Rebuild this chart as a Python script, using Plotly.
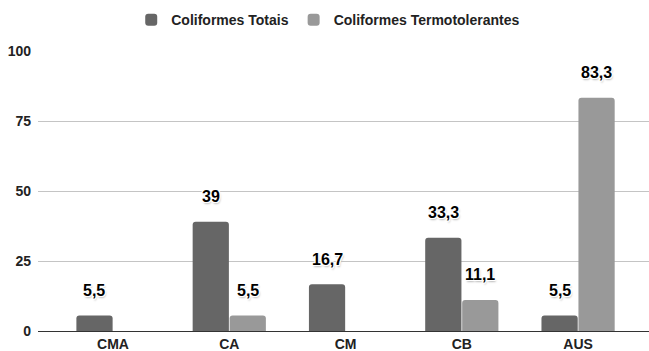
import plotly.graph_objects as go

categories = ["CMA", "CA", "CM", "CB", "AUS"]
totais = [5.5, 39, 16.7, 33.3, 5.5]
termotolerantes = [0, 5.5, 0, 11.1, 83.3]
y_ticks = [0, 25, 50, 75, 100]

series = [
    ("Coliformes Totais", totais, "#666666", -18.5),
    ("Coliformes Termotolerantes", termotolerantes, "#999999", 18.5),
]

fig = go.Figure()
for name, values, color, _ in series:
    fig.add_trace(go.Bar(
        name=name, x=categories, y=values,
        marker=dict(color=color, line=dict(width=0)),
        hoverinfo="skip",
    ))

outline = ("-1px -1px 0 #fff, 1px -1px 0 #fff, -1px 1px 0 #fff, 1px 1px 0 #fff, "
           "0 -1px 0 #fff, 0 1px 0 #fff, -1px 0 0 #fff, 1px 0 0 #fff, 1px 2px 2px #bbb")

def fmt(v):
    return f"{v:g}".replace(".", ",")

annotations = []
for name, values, color, shift in series:
    for cat, v in zip(categories, values):
        if v == 0:
            continue
        annotations.append(dict(
            x=cat, y=v, xref="x", yref="y", text=fmt(v), showarrow=False,
            xshift=shift, yshift=25, yanchor="middle",
            font=dict(family="Arial, Liberation Sans", size=16, color="#000000",
                      weight="bold", shadow=outline),
        ))

fig.update_layout(
    width=649, height=351,
    margin=dict(l=38, r=0, t=51, b=20, autoexpand=False),
    paper_bgcolor="#ffffff", plot_bgcolor="#ffffff",
    barmode="group", bargap=0.364, bargroupgap=0.02, barcornerradius=3,
    font=dict(family="Arial, Liberation Sans", size=14, color="#222222"),
    legend=dict(orientation="h", x=0.475, xanchor="center", y=1.11, yanchor="middle",
                font=dict(size=14, weight="bold", color="#222222"),
                itemwidth=30, itemclick=False, itemdoubleclick=False),
    annotations=annotations,
    showlegend=True,
)
fig.update_xaxes(
    range=[-0.645, 4.61], showgrid=False, zeroline=False, automargin=False,
    showline=True, linecolor="#333333", linewidth=1,
    tickfont=dict(size=14, weight="bold", color="#222222"),
    ticks="", ticklabelstandoff=0, fixedrange=True,
)
fig.update_yaxes(
    range=[0, 100], tickvals=y_ticks, showgrid=True, gridcolor="#c4c4c4", gridwidth=1,
    zeroline=False, showline=False, automargin=False,
    tickfont=dict(size=14, weight="bold", color="#222222"),
    ticks="", ticklabelstandoff=6, fixedrange=True,
)

fig.write_html("out.html", config={"displayModeBar": False})
